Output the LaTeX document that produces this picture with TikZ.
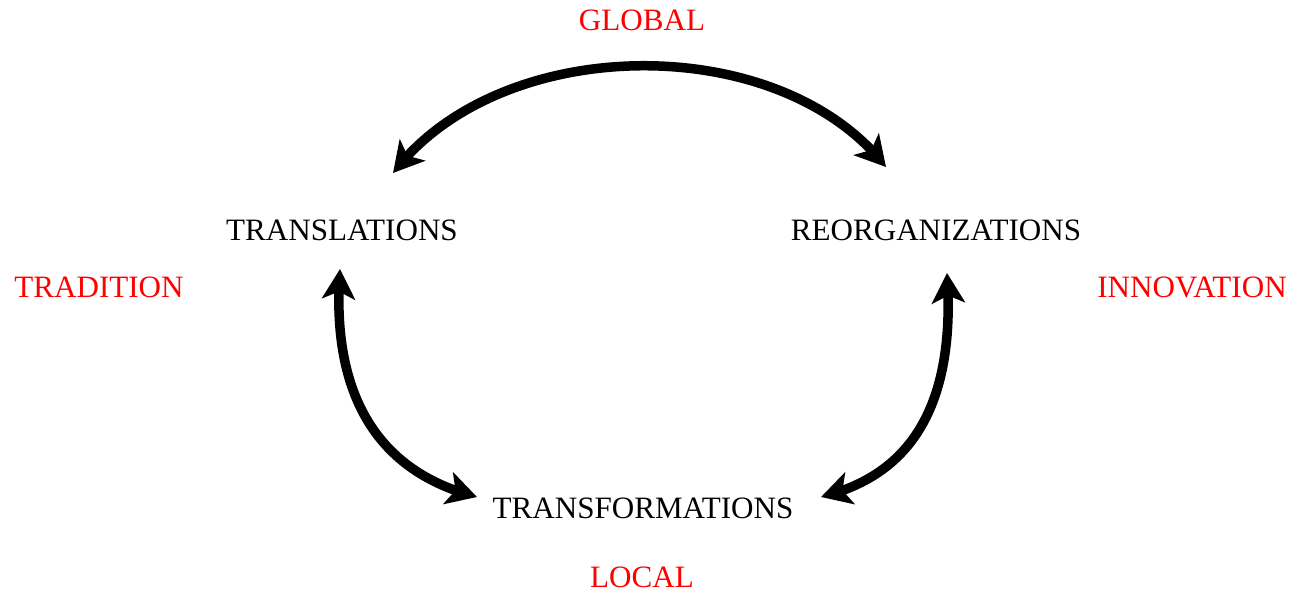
\documentclass[tikz,border=0pt]{standalone}
\usepackage{fontspec}
\setmainfont{Liberation Serif}
\usetikzlibrary{arrows.meta,bending}
\begin{document}
\begin{tikzpicture}[x=0.02cm,y=-0.02cm,
  lbl/.style={anchor=base,inner sep=0pt,font=\fontsize{17.7}{21}\selectfont},
  redlbl/.style={lbl,text={rgb,255:red,255;green,0;blue,0}},
  bigarrow/.style={line width=0.19cm,{Stealth[length=0.6cm,width=0.66cm,inset=0.15cm,flex]}-{Stealth[length=0.6cm,width=0.66cm,inset=0.15cm,flex]}}]
\useasboundingbox (0,0) rectangle (1311,592);
\node[redlbl] (global) at (642,30) {GLOBAL};
\node[lbl] (transl) at (342,240) {TRANSLATIONS};
\node[lbl] (reorg) at (936,240) {REORGANIZATIONS};
\node[redlbl] (trad) at (99,297) {TRADITION};
\node[redlbl] (innov) at (1192,297) {INNOVATION};
\node[lbl] (transf) at (643,518) {TRANSFORMATIONS};
\node[redlbl] (local) at (642,587) {LOCAL};
\coordinate (tl) at (393,173);
\coordinate (tr) at (886,167);
\coordinate (ll) at (340,269);
\coordinate (lb) at (477,497);
\coordinate (rr) at (947,273);
\coordinate (rb) at (821,497);
\draw[bigarrow] (tl) .. controls (500,32) and (780,30) .. (tr);
\draw[bigarrow] (ll) .. controls (328,430) and (410,480) .. (lb);
\draw[bigarrow] (rr) .. controls (958,430) and (890,480) .. (rb);
\end{tikzpicture}
\end{document}
